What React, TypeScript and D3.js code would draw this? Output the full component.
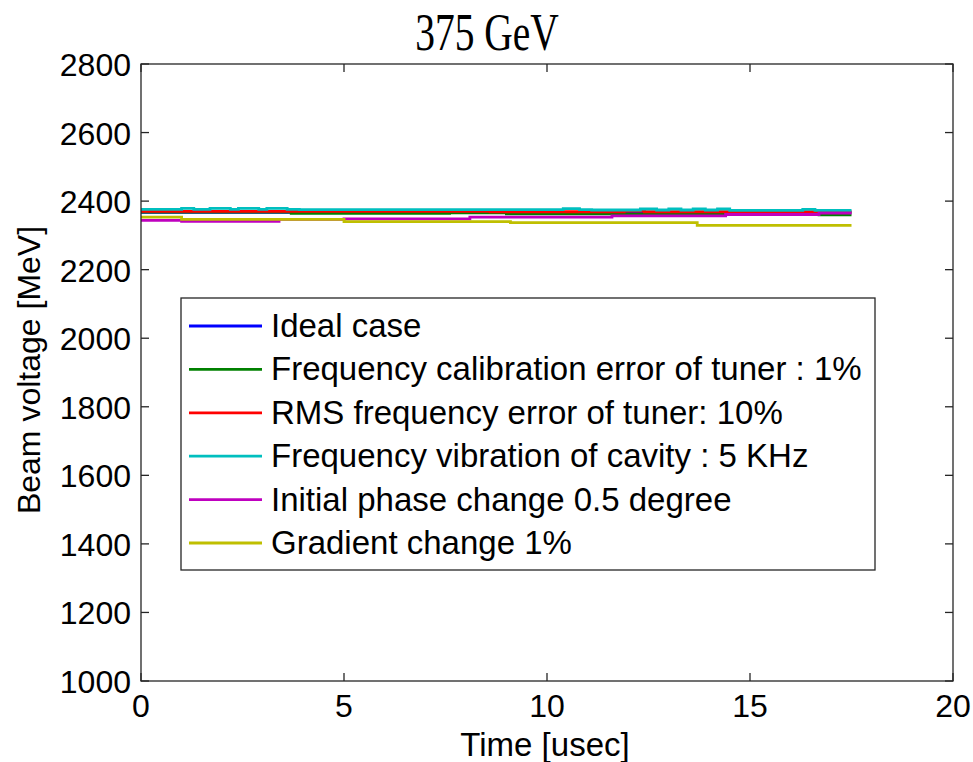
import React from "react";
import * as d3 from "d3";

const xTicks = [0, 5, 10, 15, 20];
const yTicks = [1000, 1200, 1400, 1600, 1800, 2000, 2200, 2400, 2600, 2800];

const seriesNames = [
  "Ideal case",
  "Frequency calibration error of tuner : 1%",
  "RMS frequency error of tuner: 10%",
  "Frequency vibration of cavity : 5 KHz",
  "Initial phase change 0.5 degree",
  "Gradient change 1%",
];
const seriesColors = ["#0000ff", "#008000", "#ff0000", "#00bfbf", "#bf00bf", "#bfbf00"];

// step breakpoints (time in usec) and values (MeV)
const blueT = [0, 8.6, 8.9, 9.3, 9.5, 10.0, 10.3, 11.2, 11.5, 12.0, 12.4, 17.5];
const blueV = [2367, 2369, 2367, 2369, 2367, 2369, 2367, 2369, 2367, 2369, 2367, 2367];
const greenT = [0, 3.7, 7.6, 9.0, 12.0, 16.7, 17.5];
const greenV = [2368, 2364, 2366, 2363, 2362, 2360, 2360];
const redT = [0, 7.6, 8.6, 11.9, 12.4, 13.0, 17.5];
const redV = [2370, 2370, 2369, 2371, 2369, 2369, 2369];
const cyanT = [0, 1.0, 1.3, 1.7, 2.2, 2.4, 2.9, 3.1, 3.6, 3.9, 10.4, 10.8, 11.1, 12.3, 12.7, 13.0, 13.3, 13.6, 13.9, 14.2, 14.5, 16.3, 16.6, 17.5];
const cyanV = [2376, 2379, 2376, 2379, 2376, 2379, 2376, 2379, 2376, 2375, 2378, 2375, 2374, 2377, 2374, 2377, 2374, 2377, 2374, 2377, 2373, 2376, 2373, 2373];
const magentaT = [0, 1.0, 3.4, 5.0, 8.1, 11.6, 14.4, 16.7, 17.5];
const magentaV = [2344, 2341, 2347, 2348, 2353, 2357, 2361, 2365, 2365];
const yellowT = [0, 1.0, 5.0, 9.1, 13.7, 17.5];
const yellowV = [2353, 2347, 2340, 2337, 2329, 2329];

const seriesT = [blueT, greenT, redT, cyanT, magentaT, yellowT];
const seriesV = [blueV, greenV, redV, cyanV, magentaV, yellowV];

export default function App() {
  const W = 973, H = 762;
  const left = 141, right = 953, top = 64, bottom = 681;
  const x = d3.scaleLinear().domain([0, 20]).range([left, right]);
  const y = d3.scaleLinear().domain([1000, 2800]).range([bottom, top]);
  const line = d3
    .line<[number, number]>()
    .x((d) => x(d[0]))
    .y((d) => y(d[1]))
    .curve(d3.curveStepAfter);
  const font = "Arial, 'Liberation Sans', sans-serif";
  const fs = 32;
  const fsL = 33;
  const tl = 8;
  const legX = 181, legY = 298, legW = 694, legH = 272;
  const legRow0 = 326, legStep = 43.4;
  return (
    <svg width={W} height={H} style={{ position: "absolute", left: 0, top: 0 }}>
      <rect x={0} y={0} width={W} height={H} fill="#fff" />
      <g transform="translate(487,50) scale(0.76,1)">
        <text x={0} y={0} textAnchor="middle" fontFamily="'Liberation Serif', serif" fontSize={52} fill="#000">
          375 GeV
        </text>
      </g>
      {seriesT.map((ts, i) => (
        <path
          key={i}
          d={line(ts.map((t, j) => [t, seriesV[i][j]] as [number, number])) || ""}
          fill="none"
          stroke={seriesColors[i]}
          strokeWidth={2.8}
        />
      ))}
      <rect x={left} y={top} width={right - left} height={bottom - top} fill="none" stroke="#262626" strokeWidth={1.3} />
      {xTicks.map((t) => (
        <g key={"x" + t}>
          <line x1={x(t)} x2={x(t)} y1={bottom} y2={bottom - tl} stroke="#262626" strokeWidth={1.3} />
          <line x1={x(t)} x2={x(t)} y1={top} y2={top + tl} stroke="#262626" strokeWidth={1.3} />
          <text x={x(t)} y={717} textAnchor="middle" fontFamily={font} fontSize={fs} fill="#000">
            {t}
          </text>
        </g>
      ))}
      {yTicks.map((t) => (
        <g key={"y" + t}>
          <line x1={left} x2={left + tl} y1={y(t)} y2={y(t)} stroke="#262626" strokeWidth={1.3} />
          <line x1={right} x2={right - tl} y1={y(t)} y2={y(t)} stroke="#262626" strokeWidth={1.3} />
          <text x={131} y={y(t) + 12} textAnchor="end" fontFamily={font} fontSize={fs} fill="#000">
            {t}
          </text>
        </g>
      ))}
      <text x={545} y={756} textAnchor="middle" fontFamily={font} fontSize={fsL} fill="#000">
        Time [usec]
      </text>
      <text transform={`translate(40,370) rotate(-90)`} textAnchor="middle" fontFamily={font} fontSize={fs} fill="#000">
        Beam voltage [MeV]
      </text>
      <rect x={legX} y={legY} width={legW} height={legH} fill="#fff" stroke="#262626" strokeWidth={1.3} />
      {seriesNames.map((n, i) => {
        const yy = legRow0 + i * legStep;
        return (
          <g key={n}>
            <line x1={189} x2={262} y1={yy} y2={yy} stroke={seriesColors[i]} strokeWidth={2.8} />
            <text x={271} y={yy + 11} fontFamily={font} fontSize={fsL} fill="#000">
              {n}
            </text>
          </g>
        );
      })}
    </svg>
  );
}
